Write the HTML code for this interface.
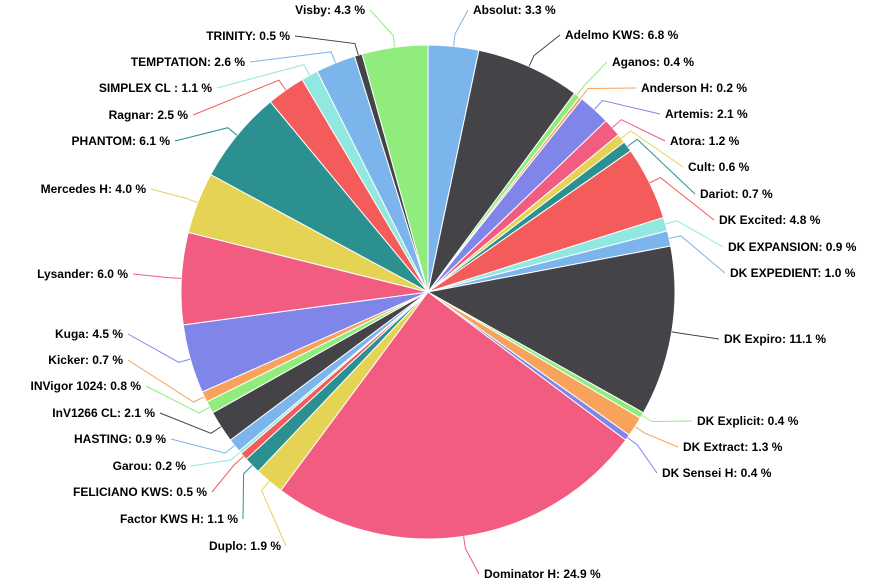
<!DOCTYPE html>
<html><head><meta charset="utf-8"><style>
html,body{margin:0;padding:0;background:#fff;}
svg{display:block;font-family:"Liberation Sans",Arial,sans-serif;}
text{font-size:12px;font-weight:bold;fill:#000;}
</style></head><body>
<svg id="chart" width="886" height="586" viewBox="0 0 886 586" xmlns="http://www.w3.org/2000/svg">
<rect width="886" height="586" fill="#fff"/>
<g id="slices"></g>
<g id="connectors"></g>
<g id="labels"></g>
</svg>
<script>
const categories = ["Absolut","Adelmo KWS","Aganos","Anderson H","Artemis","Atora","Cult","Dariot","DK Excited","DK EXPANSION","DK EXPEDIENT","DK Expiro","DK Explicit","DK Extract","DK Sensei H","Dominator H","Duplo","Factor KWS H","FELICIANO KWS","Garou","HASTING","InV1266 CL","INVigor 1024","Kicker","Kuga","Lysander","Mercedes H","PHANTOM","Ragnar","SIMPLEX CL ","TEMPTATION","TRINITY","Visby"];
const values = [3.3,6.8,0.4,0.2,2.1,1.2,0.6,0.7,4.8,0.9,1.0,11.1,0.4,1.3,0.4,24.9,1.9,1.1,0.5,0.2,0.9,2.1,0.8,0.7,4.5,6.0,4.0,6.1,2.5,1.1,2.6,0.5,4.3];
const palette = ["#7cb5ec","#434348","#90ed7d","#f7a35c","#8085e9","#f15c80","#e4d354","#2b908f","#f45b5b","#91e8e1"];
// label layout (anchor x, baseline-center y, side)
const labelX = [473,565,612,641,665,670,688,700,719,728,730,724,697,683,662,484,281,238,207,186,166,155,141,123,123,128,146,170,188,212,245,290,365];
const labelY = [10,35,62,88,114,141,167,194,220,247,273,339,421,447,473,574,546,519,492,466,439,413,386,360,334,274,189,141,115,88,62,36,10];

const cx = 428, cy = 292, R = 247;
const NS = "http://www.w3.org/2000/svg";
const total = values.reduce((a,b)=>a+b,0);
const gS = document.getElementById('slices'), gC = document.getElementById('connectors'), gL = document.getElementById('labels');
function pt(a, r){ return [cx + r*Math.sin(a), cy - r*Math.cos(a)]; }
let start = 0;
values.forEach((v,i)=>{
  const sweep = v/total*2*Math.PI;
  const end = start + sweep;
  const [x1,y1] = pt(start,R), [x2,y2] = pt(end,R);
  const large = sweep > Math.PI ? 1 : 0;
  const color = palette[i % palette.length];
  const p = document.createElementNS(NS,'path');
  p.setAttribute('d',`M${cx},${cy} L${x1},${y1} A${R},${R} 0 ${large} 1 ${x2},${y2} Z`);
  p.setAttribute('fill',color);
  p.setAttribute('stroke','#fff');
  p.setAttribute('stroke-width','1');
  
  
  gS.appendChild(p);
  const mid = start + sweep/2;
  const [ex,ey] = pt(mid,R), [ox,oy] = pt(mid,R+12);
  const right = Math.sin(mid) >= 0;
  const lx = labelX[i], ly = labelY[i];
  const ax = right ? lx - 5 : lx + 5;
  const c = document.createElementNS(NS,'polyline');
  c.setAttribute('points',`${ex},${ey} ${ox},${oy} ${ax},${ly}`);
  c.setAttribute('fill','none');
  c.setAttribute('stroke',color);
  c.setAttribute('stroke-width','1');
  
  
  gC.appendChild(c);
  const t = document.createElementNS(NS,'text');
  t.setAttribute('x',lx);
  t.setAttribute('y',ly+4);
  t.setAttribute('text-anchor', right ? 'start' : 'end');
  t.textContent = categories[i] + ': ' + v.toFixed(1) + ' %';
  
  
  gL.appendChild(t);
  start = end;
});
</script>
</body></html>
